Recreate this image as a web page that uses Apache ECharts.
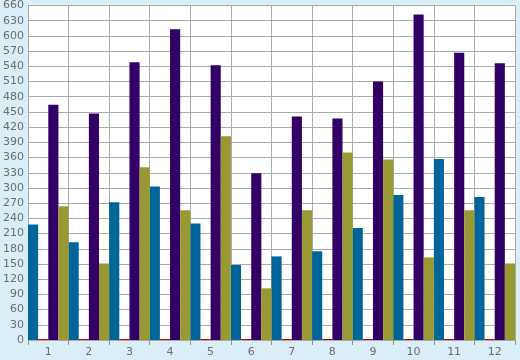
<!DOCTYPE html>
<html>
<head>
<meta charset="utf-8">
<script src="https://cdn.jsdelivr.net/npm/echarts@6/dist/echarts.min.js"></script>
<style>
html,body{margin:0;padding:0;background:#d9eef6;}
#c{width:520px;height:360px;}
</style>
</head>
<body>
<div id="c"></div>
<script>
const categories = ['1','2','3','4','5','6','7','8','9','10','11','12'];
const blueValues   = [228, 193, 272, 303, 230, 148, 165, 175, 221, 286, 357, 282];
const redValues    = [2, 2, 2, 2, 2, 2, 2, 2, 2, 2, 2, 2];
const purpleValues = [464, 447, 548, 613, 542, 329, 441, 437, 510, 642, 567, 546];
const oliveValues  = [264, 151, 341, 256, 402, 102, 256, 370, 356, 163, 256, 151];
const yMin = 0, yMax = 660, yStep = 30;

const chart = echarts.init(document.getElementById('c'), null, {renderer:'canvas'});
const lbl = {color:'#6e6e6e', fontFamily:'DejaVu Sans', fontSize:11};
function bar(name, data, color){
  return {name, type:'bar', data, barGap:'0%', barCategoryGap:'0%', z:5,
    itemStyle:{color}, animation:false};
}
chart.setOption({
  backgroundColor:'#d9eef6',
  animation:false,
  grid:{left:26, right:5, top:5, bottom:20, show:true, backgroundColor:'#ffffff', borderWidth:0},
  xAxis:{type:'category', data:categories, boundaryGap:true,
    axisLine:{show:false},
    axisTick:{show:true, length:5, lineStyle:{color:'#909090', width:1}},
    axisLabel:Object.assign({interval:0, margin:7}, lbl),
    splitLine:{show:true, lineStyle:{color:'#aaaaaa', width:1}}},
  yAxis:{type:'value', min:yMin, max:yMax, interval:yStep,
    axisLine:{show:true, lineStyle:{color:'#aaaaaa', width:1}},
    axisTick:{show:false},
    axisLabel:Object.assign({margin:4}, lbl),
    splitLine:{show:true, lineStyle:{color:'#aaaaaa', width:1}}},
  series:[
    bar('blue', blueValues, '#006699'),
    bar('red', redValues, '#c00000'),
    bar('purple', purpleValues, '#330066'),
    bar('olive', oliveValues, '#999933')
  ]
});
</script>
</body>
</html>
